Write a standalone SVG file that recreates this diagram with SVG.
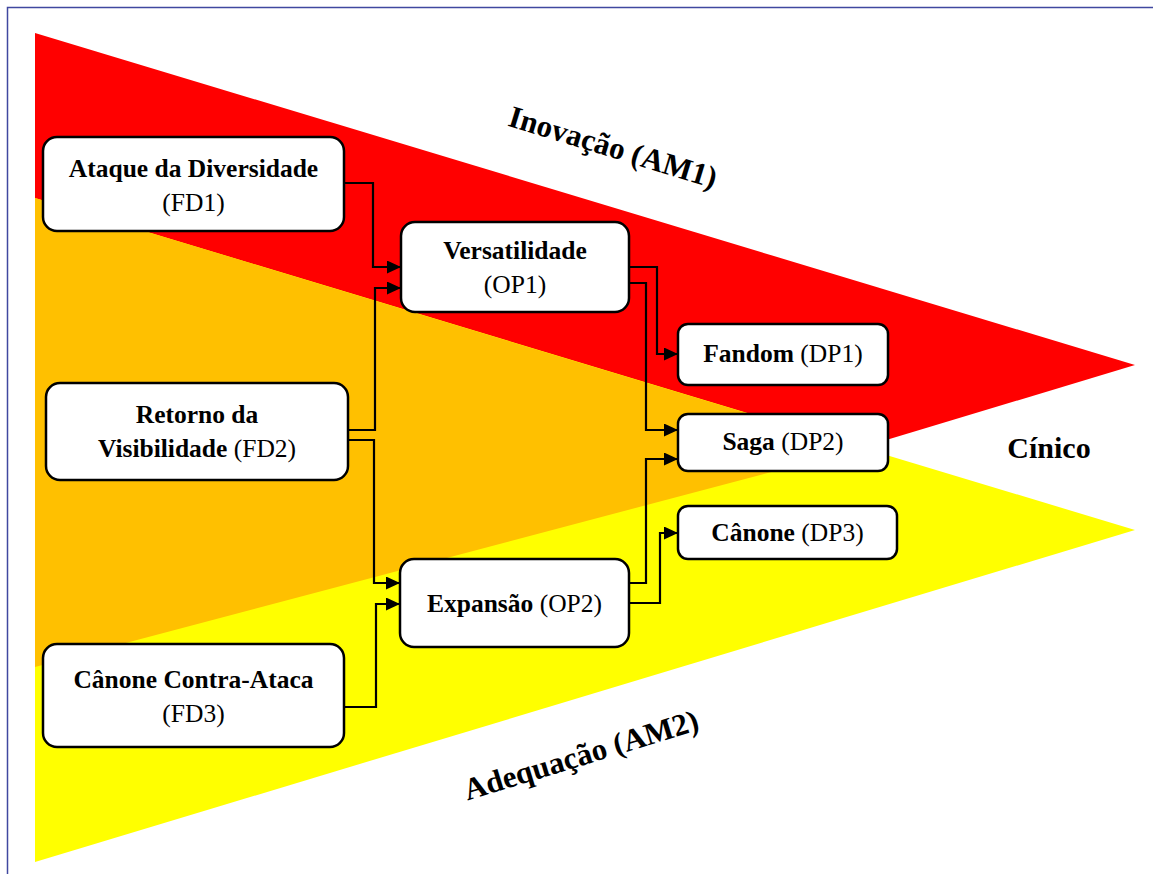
<svg xmlns="http://www.w3.org/2000/svg" width="1153" height="874" viewBox="0 0 1153 874">
<style>
  .box { fill: #ffffff; stroke: #000000; stroke-width: 2.5; }
  .t { font-family: "Liberation Serif", "Times New Roman", serif; font-size: 25.5px; fill: #000; text-anchor: middle; }
  .b { font-weight: bold; }
  .big { font-family: "Liberation Serif", "Times New Roman", serif; font-weight: bold; fill: #000; text-anchor: middle; }
  .conn { fill: none; stroke: #000; stroke-width: 2.2; marker-end: url(#arr); }
</style>
<defs>
  <marker id="arr" markerUnits="userSpaceOnUse" markerWidth="15" markerHeight="13" refX="14" refY="6.5" orient="auto">
    <path d="M0,0 L14,6.5 L0,13 z" fill="#000"/>
  </marker>
</defs>
<rect x="0" y="0" width="1153" height="874" fill="#ffffff"/>
<path d="M7.5,874 V7.5 H1153" fill="none" stroke="#4048a0" stroke-width="1.5"/>

<g id="background">
  <polygon points="35,33 1135,365 35,697" fill="#ff0000"/>
  <polygon points="35,198 1135,530 35,862" fill="#ffff00"/>
  <polygon points="35,198 862,448 35,667" fill="#ffc000"/>
</g>

<g id="labels">
  <text class="big" font-size="31" x="610" y="157" transform="rotate(17 610 157)">Inovação (AM1)</text>
  <text class="big" font-size="31" x="584" y="765" transform="rotate(-17 584 765)">Adequação (AM2)</text>
  <text class="big" font-size="30" x="1049" y="458">Cínico</text>
</g>

<g id="connectors">
  <path class="conn" d="M344,183 H373 V267 H401"/>
  <path class="conn" d="M348,430 H375 V288 H401"/>
  <path class="conn" d="M348,440 H374 V583 H400"/>
  <path class="conn" d="M344,707 H376 V604 H400"/>
  <path class="conn" d="M629,267 H657 V354 H678"/>
  <path class="conn" d="M629,283 H646 V430 H678"/>
  <path class="conn" d="M629,583 H646 V459 H678"/>
  <path class="conn" d="M629,603 H660 V533 H678"/>
</g>

<g id="FD1">
  <rect class="box" x="43" y="137" width="301" height="94" rx="14"/>
  <text class="t b" x="193.5" y="177">Ataque da Diversidade</text>
  <text class="t" x="193.5" y="211">(FD1)</text>
</g>
<g id="FD2">
  <rect class="box" x="46" y="383" width="302" height="97" rx="14"/>
  <text class="t b" x="197" y="423">Retorno da</text>
  <text class="t" x="197" y="457"><tspan class="b">Visibilidade</tspan> (FD2)</text>
</g>
<g id="FD3">
  <rect class="box" x="43" y="644" width="301" height="103" rx="14"/>
  <text class="t b" x="193.5" y="688">Cânone Contra-Ataca</text>
  <text class="t" x="193.5" y="722">(FD3)</text>
</g>
<g id="OP1">
  <rect class="box" x="401" y="222" width="228" height="90" rx="14"/>
  <text class="t b" x="515" y="259">Versatilidade</text>
  <text class="t" x="515" y="293">(OP1)</text>
</g>
<g id="OP2">
  <rect class="box" x="400" y="559" width="229" height="88" rx="14"/>
  <text class="t" x="514.5" y="612"><tspan class="b">Expansão</tspan> (OP2)</text>
</g>
<g id="DP1">
  <rect class="box" x="678" y="324" width="210" height="61" rx="10"/>
  <text class="t" x="783" y="362"><tspan class="b">Fandom</tspan> (DP1)</text>
</g>
<g id="DP2">
  <rect class="box" x="678" y="414" width="210" height="57" rx="10"/>
  <text class="t" x="783" y="450"><tspan class="b">Saga</tspan> (DP2)</text>
</g>
<g id="DP3">
  <rect class="box" x="678" y="506" width="219" height="53" rx="10"/>
  <text class="t" x="787.5" y="541"><tspan class="b">Cânone</tspan> (DP3)</text>
</g>
</svg>
